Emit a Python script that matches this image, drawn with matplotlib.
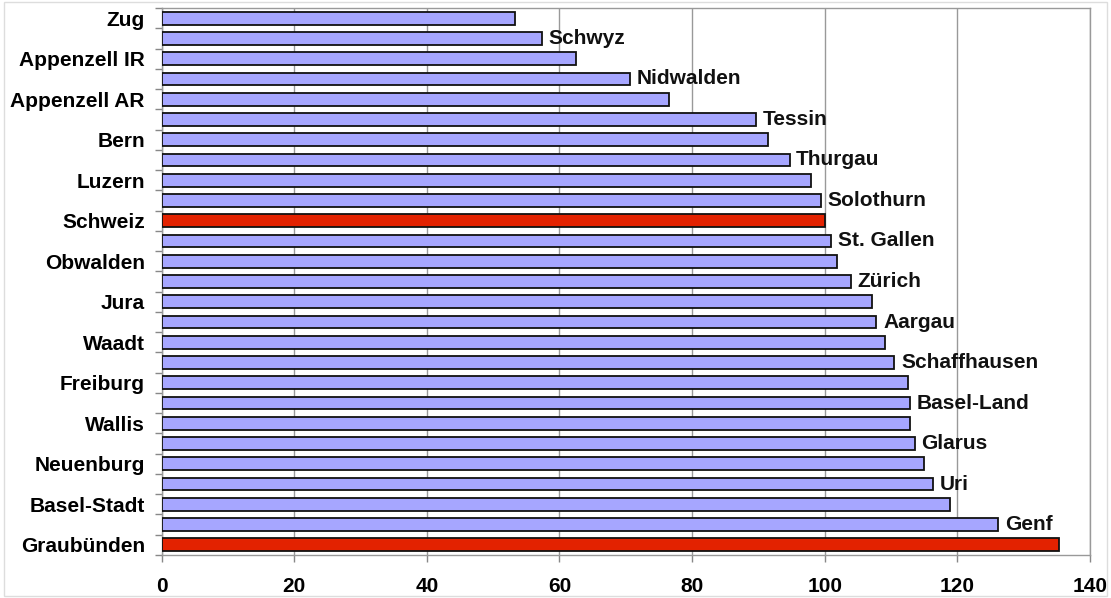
import matplotlib
matplotlib.use('Agg')
import matplotlib.pyplot as plt
import numpy as np

# Cantons, top to bottom, and their index values
cantons = ['Zug', 'Schwyz', 'Appenzell IR', 'Nidwalden', 'Appenzell AR', 'Tessin',
           'Bern', 'Thurgau', 'Luzern', 'Solothurn', 'Schweiz', 'St. Gallen',
           'Obwalden', 'Zürich', 'Jura', 'Aargau', 'Waadt', 'Schaffhausen',
           'Freiburg', 'Basel-Land', 'Wallis', 'Glarus', 'Neuenburg', 'Uri',
           'Basel-Stadt', 'Genf', 'Graubünden']
values = [53.3, 57.4, 62.5, 70.7, 76.5, 89.6,
          91.4, 94.7, 98.0, 99.4, 100.0, 101.0,
          101.9, 103.9, 107.1, 107.8, 109.1, 110.5,
          112.5, 112.9, 112.9, 113.6, 114.9, 116.3,
          118.9, 126.2, 135.3]
highlight = ['Schweiz', 'Graubünden']

x_ticks = [0, 20, 40, 60, 80, 100, 120, 140]

plt.rcParams['font.family'] = ['Liberation Sans', 'DejaVu Sans']
FS = 15

fig = plt.figure(figsize=(11.11, 5.98), dpi=100)
ax = fig.add_axes([0.1454, 0.0719, 0.8357, 0.9147])

n = len(cantons)
ypos = np.arange(n)
colors = ['#E32200' if c in highlight else '#A6A6FF' for c in cantons]
ax.barh(ypos, values, height=0.63, color=colors, edgecolor='#111111', linewidth=1.3, zorder=3)

# labels: even rows on the axis, odd rows at the bar end
for i, (c, v) in enumerate(zip(cantons, values)):
    if i % 2 == 1:
        ax.text(v + 1.0, i, c, va='center', ha='left', fontsize=FS,
                fontweight='bold', color='#111111')

ax.set_ylim(n - 0.5, -0.5)
ax.set_xlim(0, 140)
ax.set_xticks(x_ticks)
ax.set_xticklabels([str(t) for t in x_ticks], fontsize=FS, fontweight='bold')

ax.set_yticks(ypos[::2])
ax.set_yticklabels(cantons[::2], fontsize=FS, fontweight='bold')
ax.set_yticks(np.arange(n + 1) - 0.5, minor=True)
ax.tick_params(axis='y', which='major', length=0, pad=12)
ax.tick_params(axis='y', which='minor', length=5, color='#888888', width=1)
ax.tick_params(axis='x', which='major', length=5, color='#888888', width=1, pad=11)

ax.grid(axis='x', color='#999999', linewidth=1, zorder=0)
for s in ax.spines.values():
    s.set_color('#999999')
    s.set_linewidth(1)

fig.patches.append(plt.Rectangle((0.004, 0.004), 0.992, 0.992, transform=fig.transFigure,
                                 fill=False, edgecolor='#dddddd', linewidth=1))

fig.savefig('out.png', dpi=100)
